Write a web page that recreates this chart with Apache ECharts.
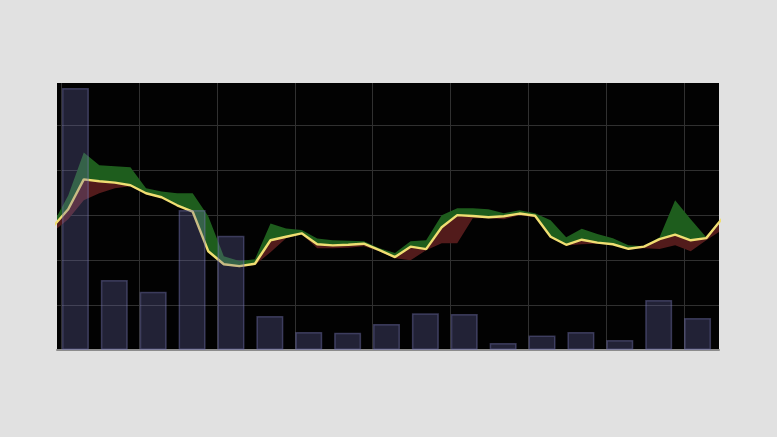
<!DOCTYPE html>
<html><head><meta charset="utf-8">
<script src="https://cdn.jsdelivr.net/npm/echarts@6/dist/echarts.min.js"></script>
<style>html,body{margin:0;padding:0;background:#e1e1e1;}#c{width:777px;height:437px;}</style>
</head><body><div id="c"></div>
<script>
// Volume bars (17 periods)
const periods = ['P1','P2','P3','P4','P5','P6','P7','P8','P9','P10','P11','P12','P13','P14','P15','P16','P17'];
const volume = [116.4, 31.1, 25.9, 62.2, 50.8, 15.1, 8.0, 7.7, 11.6, 16.3, 16.0, 3.1, 6.4, 8.0, 4.4, 22.2, 14.2];

// Price series (44 samples)
const priceMid = [46.1,52.7,63.9,63.2,62.7,61.7,58.7,57.2,54.2,51.8,
                  37.0,32.1,31.4,32.3,41.1,42.4,43.7,39.6,39.2,39.4,
                  39.8,37.4,34.8,38.7,37.8,46.0,50.5,50.2,49.7,50.1,
                  51.1,50.3,42.4,39.4,41.3,40.2,39.6,37.9,38.7,41.5,
                  43.2,41.1,41.9,49.1];
const priceHigh = [47.1,57.9,74.0,69.2,68.8,68.4,60.6,59.4,58.7,58.7,
                   50.1,35.1,33.3,34.0,47.4,45.5,44.9,41.8,41.1,40.9,
                   40.7,38.1,36.3,40.7,41.1,50.5,53.1,53.1,52.7,51.2,
                   52.3,51.2,48.6,42.2,45.4,43.4,41.9,39.2,38.9,42.2,
                   56.1,49.0,42.2,49.7];
const priceLow = [44.1,49.0,56.1,58.7,60.6,61.3,58.3,57.0,54.0,51.6,
                  36.6,31.8,31.0,31.8,36.6,41.9,43.4,38.1,38.1,38.3,
                  38.9,37.0,34.4,33.6,37.4,40.0,40.0,49.3,49.3,49.0,
                  50.5,49.7,42.1,39.1,39.6,39.8,39.4,37.6,38.1,37.8,
                  39.2,37.0,41.1,44.9];

const timePhase = -0.57; // sample time of first price point
const t = priceMid.map((_, i) => i + timePhase);
// value first, time second (encoded explicitly) so stacking applies to the value dimension
const pairVY = arr => arr.map((v, i) => [v, t[i]]);
const enc = {x: 1, y: 0};

const chart = echarts.init(document.getElementById('c'), null, {renderer: 'canvas'});
const gridColor = '#303030';
chart.setOption({
  backgroundColor: '#e1e1e1',
  animation: false,
  grid: [
    {left: 57, top: 83, width: 662, height: 267, show: true, backgroundColor: '#020202', borderWidth: 0},
    {left: 56, top: 83, width: 661, height: 267, show: false}
  ],
  xAxis: [
    {type: 'value', gridIndex: 0, min: -0.29, max: 42.25, minInterval: 5, maxInterval: 5,
     axisLine: {show: true, onZero: false, lineStyle: {color: '#8c8c8c', width: 2}},
     axisTick: {show: false}, axisLabel: {show: false},
     splitLine: {show: true, showMinLine: false, showMaxLine: false, lineStyle: {color: gridColor, width: 1}}},
    {type: 'category', gridIndex: 1, data: periods, boundaryGap: true,
     axisLine: {show: false}, axisTick: {show: false}, axisLabel: {show: false}, splitLine: {show: false}}
  ],
  yAxis: [
    {type: 'value', gridIndex: 0, min: 0, max: 100, interval: 16.85,
     axisLine: {show: false}, axisTick: {show: false}, axisLabel: {show: false},
     splitLine: {show: true, showMinLine: false, showMaxLine: false, lineStyle: {color: gridColor, width: 1}}},
    {type: 'value', gridIndex: 1, min: 0, max: 118.67,
     axisLine: {show: false}, axisTick: {show: false}, axisLabel: {show: false}, splitLine: {show: false}}
  ],
  series: [
    {name: 'base', type: 'line', xAxisIndex: 0, yAxisIndex: 0, stack: 'band', stackStrategy: 'all', encode: enc,
     data: pairVY(priceLow), symbol: 'none', lineStyle: {width: 0, opacity: 0}, z: 1, silent: true},
    {name: 'low', type: 'line', xAxisIndex: 0, yAxisIndex: 0, stack: 'band', stackStrategy: 'all', encode: enc,
     data: pairVY(priceMid.map((m, i) => m - priceLow[i])), symbol: 'none',
     lineStyle: {width: 0, opacity: 0}, areaStyle: {color: '#521b1b', opacity: 1}, z: 1},
    {name: 'high', type: 'line', xAxisIndex: 0, yAxisIndex: 0, stack: 'band', stackStrategy: 'all', encode: enc,
     data: pairVY(priceHigh.map((h, i) => h - priceMid[i])), symbol: 'none',
     lineStyle: {width: 0, opacity: 0}, areaStyle: {color: '#1e5d1d', opacity: 1}, z: 1},
    {name: 'price', type: 'line', xAxisIndex: 0, yAxisIndex: 0, encode: enc, data: pairVY(priceMid), symbol: 'none',
     lineStyle: {color: '#f0de72', width: 2.4}, z: 2},
    {name: 'volume', type: 'bar', xAxisIndex: 1, yAxisIndex: 1, data: volume, barWidth: 27,
     itemStyle: {color: 'rgba(110,110,175,0.30)', borderColor: 'rgba(120,120,180,0.42)', borderWidth: 1.5}, z: 3}
  ]
});
</script>
</body></html>
